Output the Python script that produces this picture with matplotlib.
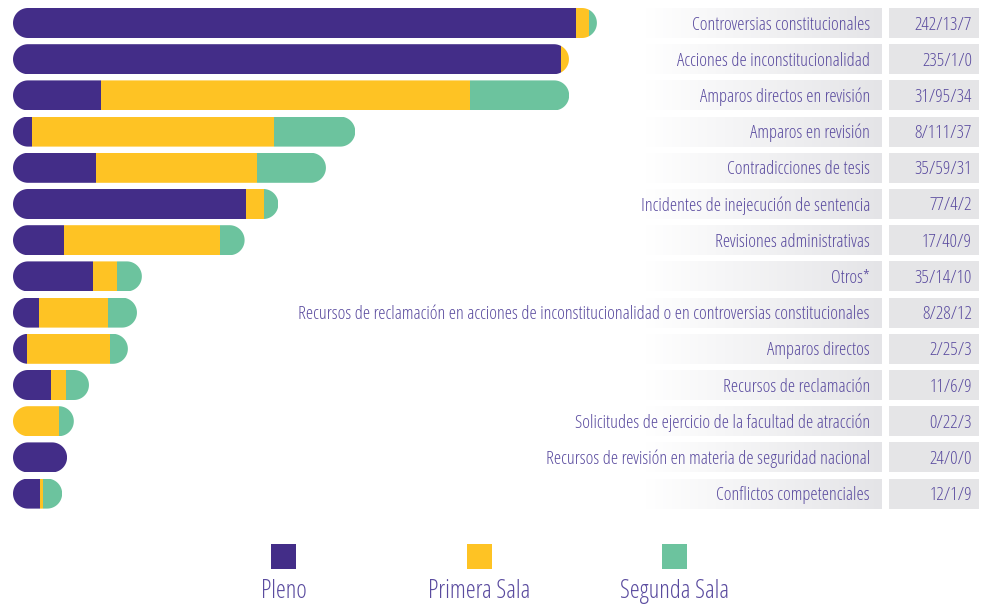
import numpy as np
import matplotlib
matplotlib.use('Agg')
import matplotlib.pyplot as plt
from matplotlib.patches import Polygon, Rectangle

categorias = [
    'Controversias constitucionales',
    'Acciones de inconstitucionalidad',
    'Amparos directos en revisión',
    'Amparos en revisión',
    'Contradicciones de tesis',
    'Incidentes de inejecución de sentencia',
    'Revisiones administrativas',
    'Otros*',
    'Recursos de reclamación en acciones de inconstitucionalidad o en controversias constitucionales',
    'Amparos directos',
    'Recursos de reclamación',
    'Solicitudes de ejercicio de la facultad de atracción',
    'Recursos de revisión en materia de seguridad nacional',
    'Conflictos competenciales',
]
valores = ['242/13/7', '235/1/0', '31/95/34', '8/111/37', '35/59/31', '77/4/2', '17/40/9',
           '35/14/10', '8/28/12', '2/25/3', '11/6/9', '0/22/3', '24/0/0', '12/1/9']

# longitud de cada segmento tal como aparece dibujado en la gráfica
pleno = [241.6, 235.2, 37.6, 8.2, 35.6, 100.0, 21.9, 34.3, 11.2, 6.0, 16.3, 0.0, 23.2, 11.6]
primera = [5.8, 3.4, 158.6, 103.9, 69.1, 7.7, 67.0, 10.3, 29.6, 35.6, 6.4, 19.7, 0.0, 1.3]
segunda = [3.2, 0.0, 42.5, 34.8, 29.6, 6.2, 10.5, 10.7, 12.4, 7.7, 9.9, 6.4, 0.0, 8.2]

series = ['Pleno', 'Primera Sala', 'Segunda Sala']
colores = ['#432d88', '#fec324', '#6cc39e']
color_texto = '#5a4b9f'
gris = (0.898, 0.898, 0.906)

plt.rcParams['font.family'] = ['Open Sans', 'DejaVu Sans']
plt.rcParams['font.stretch'] = 'condensed'
plt.rcParams['font.weight'] = 'light'

W, H = 981, 605
fig = plt.figure(figsize=(W / 100, H / 100), dpi=100)

# escala de las barras: px por unidad y px por renglón
px_x = 2.33
px_y = 36.2
x0, y0 = 13, 23
alto = 30 / px_y

ax = fig.add_axes([0, 0, 1, 1])
ax.set_xlim(-x0 / px_x, (W - x0) / px_x)
ax.set_ylim((H - y0) / px_y, -y0 / px_y)
ax.axis('off')

y = np.arange(len(categorias))
pleno = np.array(pleno)
primera = np.array(primera)
segunda = np.array(segunda)
total = pleno + primera + segunda

# forma de cápsula para recortar cada barra (extremos semicirculares)
rx = 15 / px_x
ry = alto / 2
t = np.linspace(-np.pi / 2, np.pi / 2, 40)


def capsula(yc, largo):
    der = np.column_stack([largo - rx + rx * np.cos(t), yc + ry * np.sin(t)])
    izq = np.column_stack([rx - rx * np.cos(t), yc - ry * np.sin(t)])
    return np.vstack([der, izq])


for i in range(len(categorias)):
    clip = Polygon(capsula(y[i], total[i]), closed=True, facecolor='none', edgecolor='none')
    ax.add_patch(clip)
    left = 0
    for vals, c in zip([pleno, primera, segunda], colores):
        if vals[i] > 0:
            b = ax.barh(y[i], vals[i], left=left, height=alto, color=c, linewidth=0)
            for r in b:
                r.set_clip_path(clip)
        left += vals[i]

# capa de textos y cajas en pixeles
ax2 = fig.add_axes([0, 0, 1, 1])
ax2.axis('off')
ax2.patch.set_alpha(0)

grad = np.zeros((1, 256, 4))
grad[..., 0], grad[..., 1], grad[..., 2] = gris
grad[..., 3] = np.linspace(0, 1, 256)
for i, (cat, val) in enumerate(zip(categorias, valores)):
    yc = y0 + i * px_y
    ax2.imshow(grad, extent=(645, 882, yc + 15, yc - 15), aspect='auto', interpolation='bilinear')
    ax2.add_patch(Rectangle((889, yc - 15), 90, 30, facecolor=gris, edgecolor='none'))
    ax2.text(870, yc + 1.5, cat, ha='right', va='center', fontsize=13.3, color=color_texto)
    ax2.text(972, yc + 1.5, val, ha='right', va='center', fontsize=13.3, color=color_texto)
ax2.set_xlim(0, W)
ax2.set_ylim(H, 0)

for s, c, xc in zip(series, colores, [283.5, 479.5, 674.5]):
    ax2.add_patch(Rectangle((xc - 12.5, 544), 25, 25, facecolor=c, edgecolor='none'))
    ax2.text(xc, 591, s, ha='center', va='center', fontsize=18, color=color_texto)

fig.savefig('out.png', dpi=100)
